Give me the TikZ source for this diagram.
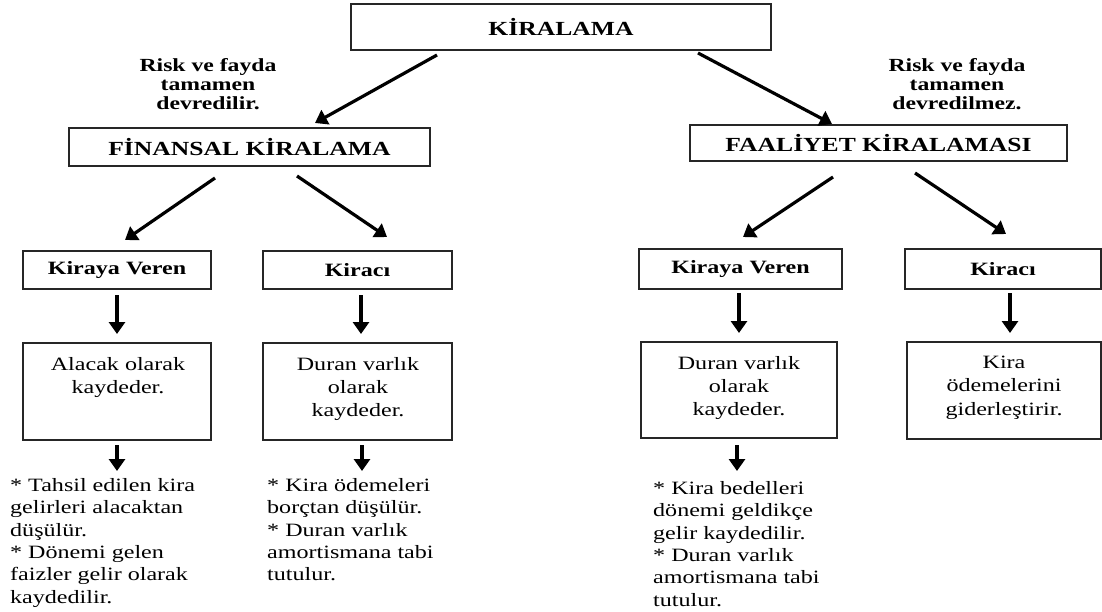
\documentclass[tikz,border=0pt]{standalone}
\usepackage{fontspec}
\setmainfont{Liberation Serif}[FakeStretch=1.28]
\usetikzlibrary{arrows.meta}
\begin{document}
\begin{tikzpicture}[x=1pt,y=-1pt,
  box/.style={draw=black!85, line width=1.3pt, inner sep=0pt},
  hdr/.style={font=\fontsize{20}{22}\selectfont\bfseries},
  lab/.style={font=\fontsize{18.8}{22}\selectfont\bfseries},
  risk/.style={font=\fontsize{18.5}{19}\selectfont\bfseries, align=center, inner sep=0pt},
  body/.style={font=\fontsize{18.8}{23.2}\selectfont, align=center, inner sep=0pt, anchor=north},
  note/.style={font=\fontsize{18.8}{22.4}\selectfont, align=left, inner sep=0pt, anchor=north west},
  arr/.style={line width=3.2pt, -{Triangle[length=12pt,width=16pt]}}]
\useasboundingbox (0,0) rectangle (1102,612);

% boxes
\node[box, hdr, minimum width=420pt, minimum height=46pt] (top) at (561,27) {KİRALAMA};
\node[box, hdr, minimum width=361pt, minimum height=38pt] (fin) at (249.5,147) {FİNANSAL KİRALAMA};
\node[box, hdr, minimum width=377pt, minimum height=36pt] (faa) at (878.5,143) {FAALİYET KİRALAMASI};
\node[box, lab, minimum width=188pt, minimum height=38pt] (kv1) at (117,270) {Kiraya Veren};
\node[box, lab, minimum width=189pt, minimum height=38pt] (kc1) at (357.5,270) {Kiracı};
\node[box, lab, minimum width=203pt, minimum height=40pt] (kv2) at (740.5,269) {Kiraya Veren};
\node[box, lab, minimum width=196pt, minimum height=40pt] (kc2) at (1003,269) {Kiracı};
\node[box, minimum width=188pt, minimum height=97pt] (b1) at (117,391.5) {};
\node[box, minimum width=189pt, minimum height=97pt] (b2) at (357.5,391.5) {};
\node[box, minimum width=196pt, minimum height=96pt] (b3) at (739,390) {};
\node[box, minimum width=194pt, minimum height=97pt] (b4) at (1004,390.5) {};

% box texts
\node[body] (t1) at (118,357) {Alacak olarak\\kaydeder.};
\node[body] (t2) at (358,357) {Duran varlık\\olarak\\kaydeder.};
\node[body] (t3) at (739,356) {Duran varlık\\olarak\\kaydeder.};
\node[body] (t4) at (1004,356) {Kira\\ödemelerini\\giderleştirir.};

% risk labels
\node[risk] (r1) at (208,84) {Risk ve fayda\\tamamen\\devredilir.};
\node[risk] (r2) at (957,84) {Risk ve fayda\\tamamen\\devredilmez.};

% notes
\node[note] (n1) at (10,478) {* Tahsil edilen kira\\gelirleri alacaktan\\düşülür.\\* Dönemi gelen\\faizler gelir olarak\\kaydedilir.};
\node[note] (n2) at (267,478) {* Kira ödemeleri\\borçtan düşülür.\\* Duran varlık\\amortismana tabi\\tutulur.};
\node[note] (n3) at (653,481) {* Kira bedelleri\\dönemi geldikçe\\gelir kaydedilir.\\* Duran varlık\\amortismana tabi\\tutulur.};

% arrow endpoints
\coordinate (a1s) at (437,55);  \coordinate (a1e) at (315,123);
\coordinate (a2s) at (698,53);  \coordinate (a2e) at (832,124);
\coordinate (a3s) at (215,178); \coordinate (a3e) at (125,240);
\coordinate (a4s) at (297,176); \coordinate (a4e) at (387,237);
\coordinate (a5s) at (833,177); \coordinate (a5e) at (743,237);
\coordinate (a6s) at (915,173); \coordinate (a6e) at (1006,234);
\coordinate (d1s) at (117,295); \coordinate (d1e) at (117,334);
\coordinate (d2s) at (361,295); \coordinate (d2e) at (361,334);
\coordinate (d3s) at (739,293); \coordinate (d3e) at (739,333);
\coordinate (d4s) at (1010,293); \coordinate (d4e) at (1010,333);
\coordinate (e1s) at (117,445); \coordinate (e1e) at (117,471);
\coordinate (e2s) at (362,445); \coordinate (e2e) at (362,471);
\coordinate (e3s) at (737,445); \coordinate (e3e) at (737,471);

\foreach \s/\e in {a1s/a1e,a2s/a2e,a3s/a3e,a4s/a4e,a5s/a5e,a6s/a6e,
  d1s/d1e,d2s/d2e,d3s/d3e,d4s/d4e,e1s/e1e,e2s/e2e,e3s/e3e}
  \draw[arr] (\s) -- (\e);
\end{tikzpicture}
\end{document}
